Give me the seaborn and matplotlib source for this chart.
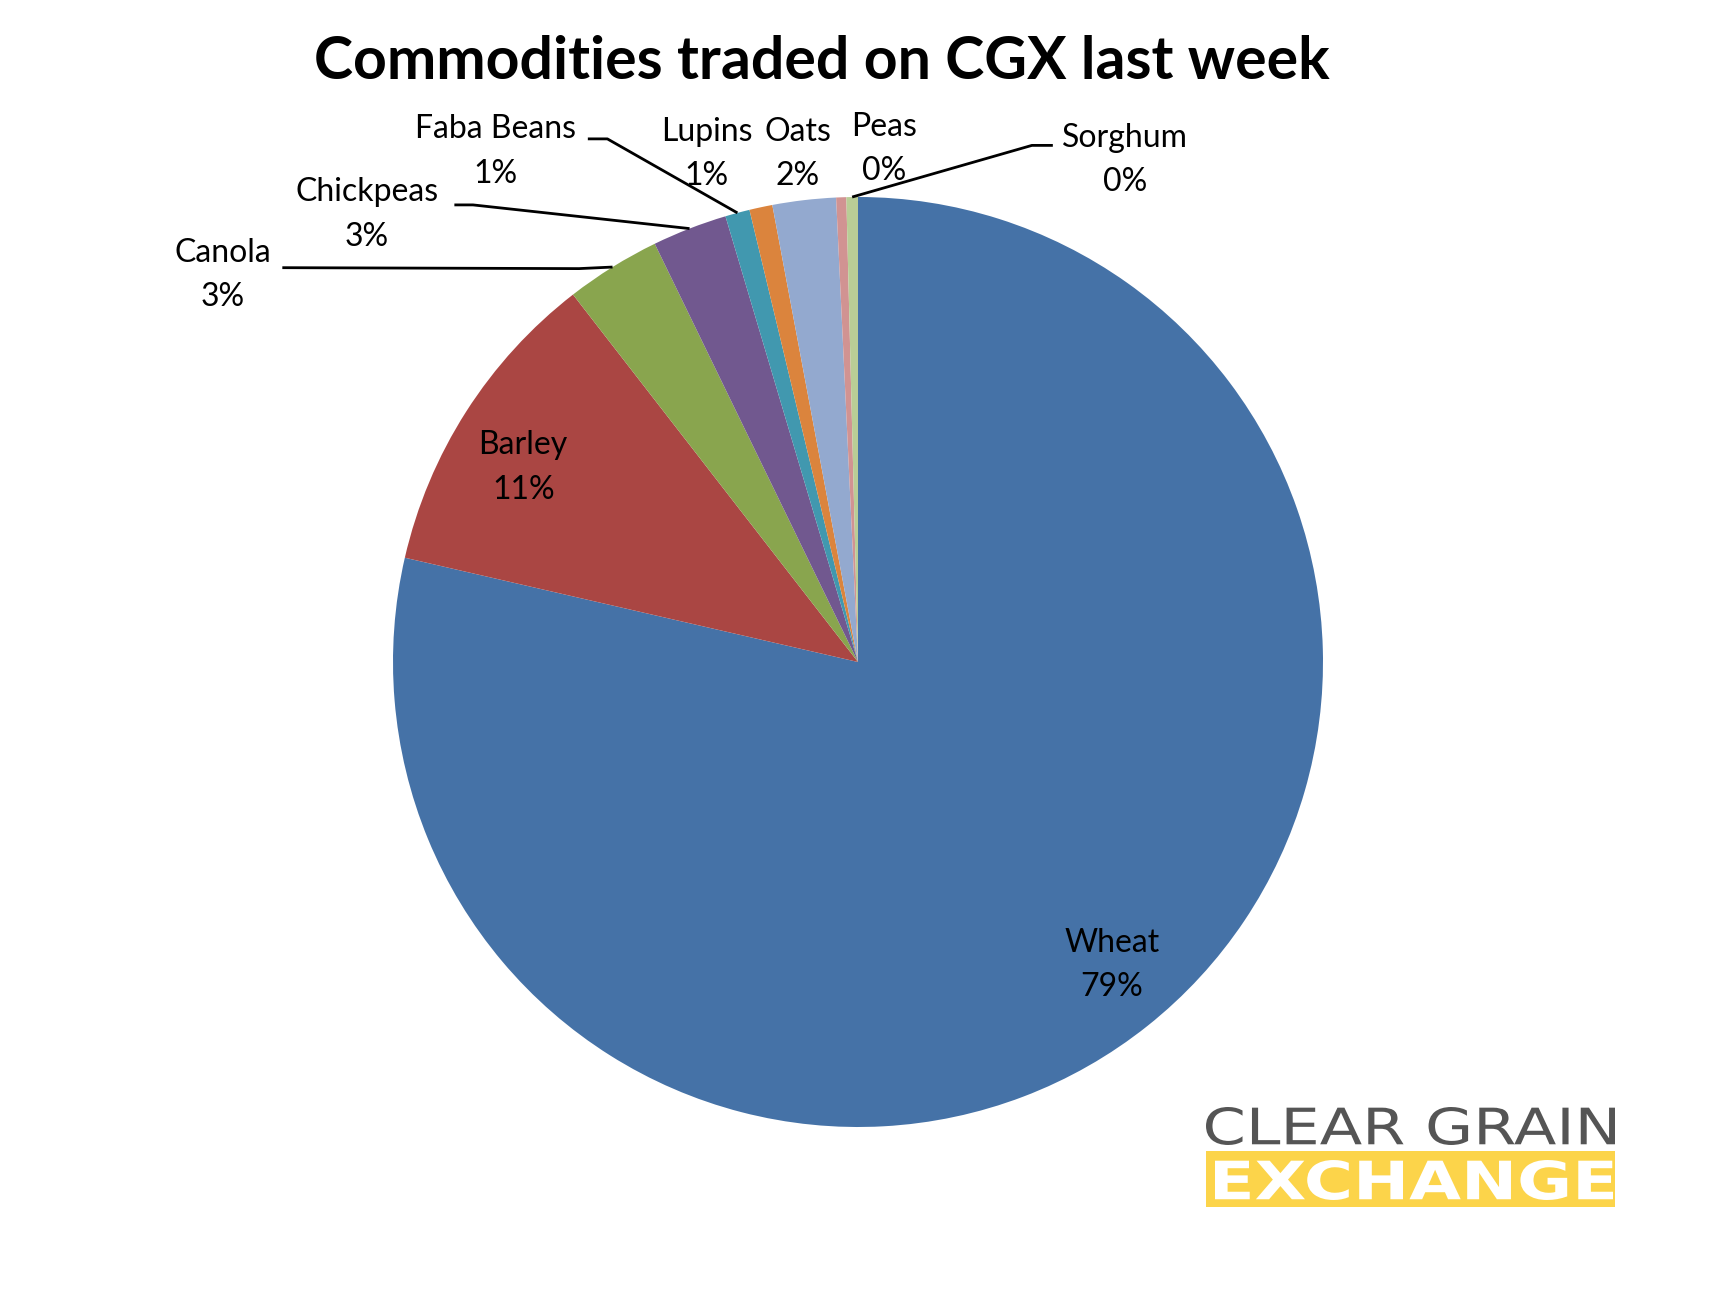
import numpy as np
import matplotlib
matplotlib.use("Agg")
import matplotlib.pyplot as plt
from matplotlib.patches import Rectangle, PathPatch
from matplotlib.textpath import TextPath
from matplotlib.font_manager import FontProperties
from matplotlib.transforms import Affine2D
import seaborn as sns

# Data (share of volume, %)
commodities = ['Wheat', 'Barley', 'Canola', 'Chickpeas', 'Faba Beans',
               'Lupins', 'Oats', 'Peas', 'Sorghum']
shares = [78.6, 10.9, 3.3, 2.6, 0.85, 0.8, 2.2, 0.35, 0.4]
colors = ['#4572A7', '#AA4643', '#89A54E', '#71588F', '#4198AF',
          '#DB843D', '#93A9CF', '#D19392', '#B9CD96']

# Label layout (data coords, pie radius = 1)
label_pos = {
    'Wheat': (0.546, -0.652),
    'Barley': (-0.72, 0.418),
    'Canola': (-1.366, 0.832),
    'Chickpeas': (-1.056, 0.962),
    'Faba Beans': (-0.779, 1.098),
    'Lupins': (-0.325, 1.092),
    'Oats': (-0.129, 1.092),
    'Peas': (0.056, 1.103),
    'Sorghum': (0.574, 1.079),
}
# leader lines: (elbow, end at label)
leaders = {
    'Canola': ((-0.60, 0.846), (-1.238, 0.848)),
    'Chickpeas': ((-0.828, 0.983), (-0.868, 0.983)),
    'Faba Beans': ((-0.539, 1.125), (-0.581, 1.125)),
    'Sorghum': ((0.374, 1.111), (0.419, 1.111)),
}

sns.set_theme(style="white")
plt.rcParams['font.family'] = ['Lato', 'DejaVu Sans']

W, H = 1716, 1289
fig = plt.figure(figsize=(W / 100, H / 100), dpi=100)
fig.patch.set_facecolor('white')

cx, cy, R = 858, 662, 465
ax = fig.add_axes([(cx - R) / W, (H - cy - R) / H, 2 * R / W, 2 * R / H])
wedges, _ = ax.pie(shares, colors=colors, startangle=90, counterclock=False,
                   radius=1, wedgeprops=dict(linewidth=0))
ax.set_xlim(-1, 1)
ax.set_ylim(-1, 1)
ax.set_aspect('auto')
ax.axis('off')

total = sum(shares)
for name, val, w in zip(commodities, shares, wedges):
    x, y = label_pos[name]
    ax.text(x, y, f"{name}\n{round(val / total * 100)}%", ha='center', va='center',
            fontsize=23, linespacing=1.6, color='black', clip_on=False)
    if name in leaders:
        mid = np.deg2rad((w.theta1 + w.theta2) / 2)
        (ex, ey), (lx, ly) = leaders[name]
        ax.plot([np.cos(mid), ex, lx], [np.sin(mid), ey, ly], color='black',
                lw=2, clip_on=False, solid_capstyle='butt')

fig.text(822 / W, 1 - 62 / H, 'Commodities traded on CGX last week', ha='center', va='center',
         fontsize=42.5, fontweight='bold', color='black')


# CGX logo - text stretched to fit the box
def logo_text(s, x0, top, width, cap_h, color, weight):
    fp = FontProperties(family='DejaVu Sans', weight=weight)
    tp = TextPath((0, 0), s, size=100, prop=fp)
    bb = tp.get_extents()
    tr = (Affine2D().translate(-bb.x0, -bb.y0)
          .scale(width / bb.width / W, cap_h / bb.height / H)
          .translate(x0 / W, (H - top - cap_h) / H))
    fig.patches.append(PathPatch(tp, transform=tr + fig.transFigure,
                                 facecolor=color, edgecolor='none'))


fig.patches.append(Rectangle((1206 / W, 1 - 1207 / H), 409 / W, 56 / H,
                             transform=fig.transFigure, facecolor='#FCD44A',
                             edgecolor='none'))
logo_text('CLEAR GRAIN', 1206, 1107, 409, 38, '#555555', 'normal')
logo_text('EXCHANGE', 1215, 1160, 398, 40, 'white', 'bold')

fig.savefig('out.png', dpi=100, facecolor='white')
